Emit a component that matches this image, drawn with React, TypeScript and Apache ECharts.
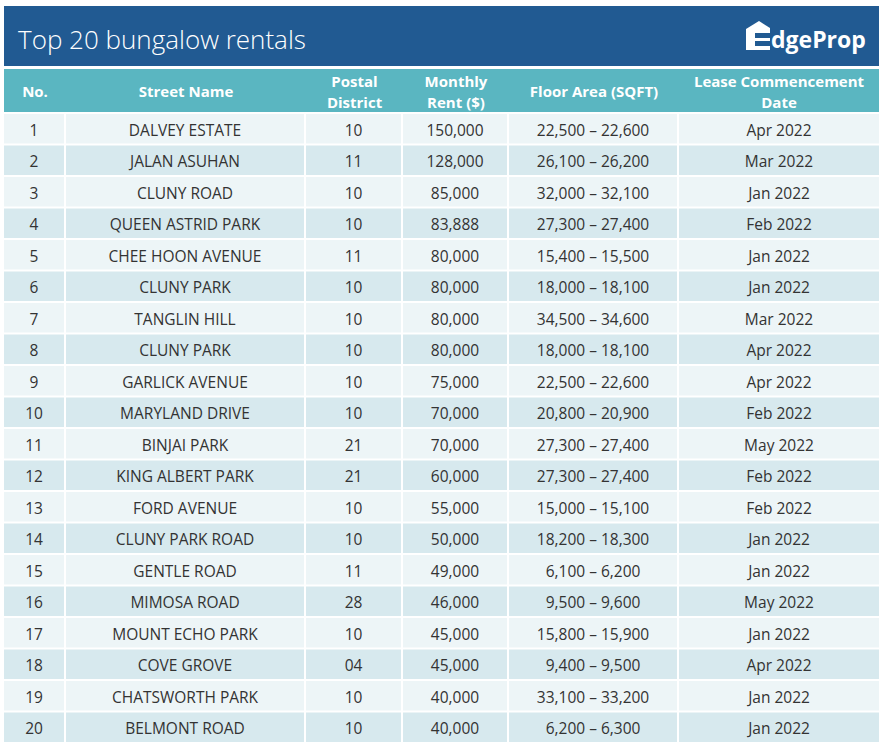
import React, { useEffect, useRef } from "react";
import * as echarts from "echarts";

const title = "Top 20 bungalow rentals";
const headers = ["No.", "Street Name", "Postal\nDistrict", "Monthly\nRent ($)", "Floor Area (SQFT)", "Lease Commencement\nDate"];
const rowNo = ["1","2","3","4","5","6","7","8","9","10","11","12","13","14","15","16","17","18","19","20"];
const streets = ["DALVEY ESTATE","JALAN ASUHAN","CLUNY ROAD","QUEEN ASTRID PARK","CHEE HOON AVENUE","CLUNY PARK","TANGLIN HILL","CLUNY PARK","GARLICK AVENUE","MARYLAND DRIVE","BINJAI PARK","KING ALBERT PARK","FORD AVENUE","CLUNY PARK ROAD","GENTLE ROAD","MIMOSA ROAD","MOUNT ECHO PARK","COVE GROVE","CHATSWORTH PARK","BELMONT ROAD"];
const districts = ["10","11","10","10","11","10","10","10","10","10","21","21","10","10","11","28","10","04","10","10"];
const rents = [150000,128000,85000,83888,80000,80000,80000,80000,75000,70000,70000,60000,55000,50000,49000,46000,45000,45000,40000,40000];
const floorAreas = ["22,500 – 22,600","26,100 – 26,200","32,000 – 32,100","27,300 – 27,400","15,400 – 15,500","18,000 – 18,100","34,500 – 34,600","18,000 – 18,100","22,500 – 22,600","20,800 – 20,900","27,300 – 27,400","27,300 – 27,400","15,000 – 15,100","18,200 – 18,300","6,100 – 6,200","9,500 – 9,600","15,800 – 15,900","9,400 – 9,500","33,100 – 33,200","6,200 – 6,300"];
const leaseDates = ["Apr 2022","Mar 2022","Jan 2022","Feb 2022","Jan 2022","Jan 2022","Mar 2022","Apr 2022","Apr 2022","Feb 2022","May 2022","Feb 2022","Feb 2022","Jan 2022","Jan 2022","May 2022","Jan 2022","Apr 2022","Jan 2022","Jan 2022"];

// column edges (x-axis units = pixels)
const colEdges = [4, 66, 306, 403, 509, 679, 879];
const GAP = 2;
const FONT = "'Open Sans', 'Noto Sans', sans-serif";
const BLUE = "#215a92";

function fmt(n: number) {
  return n.toLocaleString("en-US");
}

export default function App() {
  const ref = useRef<HTMLDivElement>(null);
  useEffect(() => {
    if (!ref.current) return;
    const chart = echarts.init(ref.current, null, { renderer: "svg" });

    const cellText = (i: number) => [rowNo[i], streets[i], districts[i], fmt(rents[i]), floorAreas[i], leaseDates[i]];

    const headerEls: any[] = [
      { type: "rect", z: 0, shape: { x: 4, y: 6, width: 875, height: 60 }, style: { fill: BLUE } },
      { type: "rect", z: 0, shape: { x: 4, y: 69, width: 875, height: 43 }, style: { fill: "#5ab6c1" } },
      {
        type: "text", z: 1, x: 18, y: 39,
        style: { text: title, fill: "#ffffff", font: `300 26px ${FONT}`, textVerticalAlign: "middle" },
      },
      {
        type: "polygon", z: 1,
        shape: { points: [[746, 50], [746, 29], [759, 21], [770, 28], [770, 50]] },
        style: { fill: "#ffffff" },
      },
      { type: "rect", z: 2, shape: { x: 755, y: 33, width: 16, height: 5 }, style: { fill: BLUE } },
      { type: "rect", z: 2, shape: { x: 755, y: 41, width: 16, height: 5 }, style: { fill: BLUE } },
      {
        type: "text", z: 1, x: 771, y: 39,
        style: { text: "dgeProp", fill: "#ffffff", font: `bold 23px ${FONT}`, textVerticalAlign: "middle" },
      },
    ];
    headers.forEach((h, c) => {
      const cx = (colEdges[c] + colEdges[c + 1]) / 2;
      headerEls.push({
        type: "text", z: 1, x: cx, y: 91,
        style: {
          text: h, fill: "#ffffff", font: `bold 15px ${FONT}`, lineHeight: 21,
          textAlign: "center", textVerticalAlign: "middle",
        },
      });
    });

    chart.setOption({
      animation: false,
      grid: { left: 0, right: 0, top: 113, height: 630 },
      xAxis: { type: "value", min: 0, max: 883, show: false },
      yAxis: { type: "category", data: rowNo, inverse: true, show: false },
      graphic: headerEls,
      series: [
        {
          type: "custom",
          data: rowNo.map((_, i) => [0, i]),
          encode: { x: 0, y: 1 },
          renderItem: (params: any, api: any) => {
            const i = params.dataIndex;
            const p = api.coord([0, i]);
            const band = api.size([0, 1])[1];
            const top = p[1] - band / 2 + GAP / 2;
            const h = band - GAP;
            const fill = i % 2 === 0 ? "#edf5f7" : "#d7e9ee";
            const texts = cellText(i);
            const children: any[] = [];
            for (let c = 0; c < 6; c++) {
              const x0 = api.coord([colEdges[c], i])[0];
              const x1 = api.coord([colEdges[c + 1], i])[0];
              const w = x1 - x0 - (c < 5 ? GAP : 0);
              children.push({
                type: "rect",
                shape: { x: x0, y: top, width: w, height: h },
                style: { fill },
              });
              children.push({
                type: "text",
                x: x0 + w / 2, y: top + h / 2 + 1,
                style: {
                  text: texts[c], fill: "#333333", font: `15.5px ${FONT}`,
                  textAlign: "center", textVerticalAlign: "middle",
                },
              });
            }
            return { type: "group", children };
          },
        },
      ],
    });
    return () => chart.dispose();
  }, []);
  return <div ref={ref} style={{ position: "fixed", left: 0, top: 0, width: 883, height: 750, background: "#ffffff" }} />;
}
